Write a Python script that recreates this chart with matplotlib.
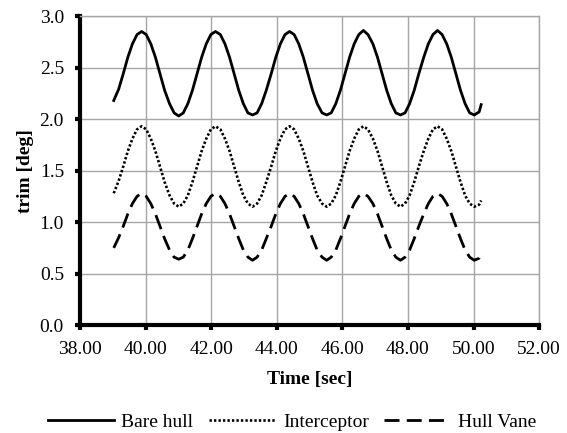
import matplotlib
matplotlib.use("Agg")
import matplotlib.pyplot as plt
from matplotlib.ticker import FormatStrFormatter, MultipleLocator

plt.rcParams['font.family'] = ['Liberation Serif', 'DejaVu Serif']

# values
time_sec = [39.03, 39.18, 39.32, 39.46, 39.60, 39.74, 39.88, 40.02, 40.16, 40.30,
            40.44, 40.58, 40.73, 40.87, 41.01, 41.15, 41.29, 41.43, 41.57, 41.71,
            41.85, 41.99, 42.13, 42.28, 42.42, 42.56, 42.70, 42.84, 42.98, 43.12,
            43.26, 43.40, 43.54, 43.68, 43.83, 43.97, 44.11, 44.25, 44.39, 44.53,
            44.67, 44.81, 44.95, 45.09, 45.23, 45.38, 45.52, 45.66, 45.80, 45.94,
            46.08, 46.22, 46.36, 46.50, 46.64, 46.78, 46.93, 47.07, 47.21, 47.35,
            47.49, 47.63, 47.77, 47.91, 48.05, 48.19, 48.33, 48.48, 48.62, 48.76,
            48.90, 49.04, 49.18, 49.32, 49.46, 49.60, 49.74, 49.88, 50.02, 50.17,
            50.23]

bare_hull = [2.18, 2.29, 2.44, 2.60, 2.73, 2.82,
             2.85, 2.82, 2.73, 2.60, 2.44, 2.28, 2.15, 2.06, 2.03, 2.06, 2.15, 2.28, 2.44, 2.60, 2.73, 2.82,
             2.85, 2.82, 2.73, 2.60, 2.44, 2.28, 2.15, 2.06, 2.04, 2.06, 2.15, 2.28, 2.44, 2.60, 2.73, 2.82,
             2.85, 2.82, 2.73, 2.60, 2.44, 2.28, 2.15, 2.06, 2.04, 2.06, 2.15, 2.28, 2.44, 2.60, 2.73, 2.82,
             2.86, 2.82, 2.73, 2.60, 2.44, 2.28, 2.15, 2.06, 2.04, 2.06, 2.15, 2.28, 2.44, 2.60, 2.73, 2.82,
             2.86, 2.82, 2.73, 2.60, 2.44, 2.28, 2.15, 2.06, 2.04, 2.07, 2.14]

interceptor = [1.28, 1.40, 1.54, 1.69, 1.81, 1.90,
               1.93, 1.90, 1.81, 1.69, 1.54, 1.39, 1.26, 1.18, 1.15, 1.18, 1.26, 1.39, 1.54, 1.69, 1.81, 1.90,
               1.93, 1.90, 1.81, 1.69, 1.54, 1.39, 1.26, 1.18, 1.15, 1.18, 1.26, 1.39, 1.54, 1.69, 1.81, 1.90,
               1.93, 1.90, 1.81, 1.69, 1.54, 1.39, 1.26, 1.18, 1.15, 1.18, 1.26, 1.39, 1.54, 1.69, 1.81, 1.90,
               1.93, 1.90, 1.81, 1.69, 1.54, 1.39, 1.26, 1.18, 1.15, 1.18, 1.26, 1.39, 1.54, 1.69, 1.81, 1.90,
               1.93, 1.90, 1.81, 1.69, 1.54, 1.39, 1.26, 1.18, 1.15, 1.17, 1.21]

hull_vane = [0.75, 0.85, 0.96, 1.08, 1.18, 1.25,
             1.28, 1.25, 1.18, 1.08, 0.96, 0.84, 0.73, 0.66, 0.64, 0.66, 0.73, 0.84, 0.96, 1.08, 1.18, 1.25,
             1.28, 1.25, 1.18, 1.08, 0.96, 0.84, 0.73, 0.66, 0.63, 0.66, 0.73, 0.84, 0.96, 1.08, 1.18, 1.25,
             1.28, 1.25, 1.18, 1.08, 0.96, 0.84, 0.73, 0.66, 0.63, 0.66, 0.73, 0.84, 0.96, 1.08, 1.18, 1.25,
             1.28, 1.25, 1.18, 1.08, 0.96, 0.84, 0.73, 0.66, 0.63, 0.66, 0.73, 0.84, 0.96, 1.08, 1.18, 1.25,
             1.28, 1.25, 1.18, 1.08, 0.96, 0.84, 0.73, 0.66, 0.63, 0.65, 0.69]

fig = plt.figure(figsize=(5.67, 4.33), dpi=100)
ax = fig.add_axes([0.141, 0.249, 0.81, 0.714])

ax.plot(time_sec, bare_hull, color='black', lw=2, label='Bare hull')
ax.plot(time_sec, interceptor, color='black', lw=1.9, linestyle=(0, (0.9, 0.8)),
        dash_capstyle='butt', label='Interceptor')
ax.plot(time_sec, hull_vane, color='black', lw=2, linestyle=(0, (5.4, 2.6)),
        dash_capstyle='butt', label='Hull Vane')

ax.set_xlim(38, 52)
ax.set_ylim(0, 3)
ax.xaxis.set_major_locator(MultipleLocator(2))
ax.yaxis.set_major_locator(MultipleLocator(0.5))
ax.xaxis.set_major_formatter(FormatStrFormatter('%.2f'))
ax.yaxis.set_major_formatter(FormatStrFormatter('%.1f'))

ax.grid(True, color='#a6a6a6', lw=1)
ax.set_axisbelow(True)
for side in ['top', 'right']:
    ax.spines[side].set_color('#a6a6a6')
    ax.spines[side].set_linewidth(1)
for side in ['left', 'bottom']:
    ax.spines[side].set_color('black')
    ax.spines[side].set_linewidth(3)

ax.tick_params(axis='both', direction='out', length=3.5, width=3, color='black',
               labelsize=14)
ax.tick_params(axis='x', pad=8)
ax.tick_params(axis='y', pad=8)

ax.set_xlabel('Time [sec]', fontsize=14, fontweight='bold', labelpad=9)
ax.set_ylabel('trim [deg]', fontsize=14, fontweight='bold', labelpad=4)

fig.legend(loc='center', bbox_to_anchor=(0.515, 0.025), ncol=3, frameon=False,
           fontsize=14, handlelength=3.4, columnspacing=0.8, handletextpad=0.4,
           borderpad=0.1)

fig.savefig('out.png', dpi=100)
